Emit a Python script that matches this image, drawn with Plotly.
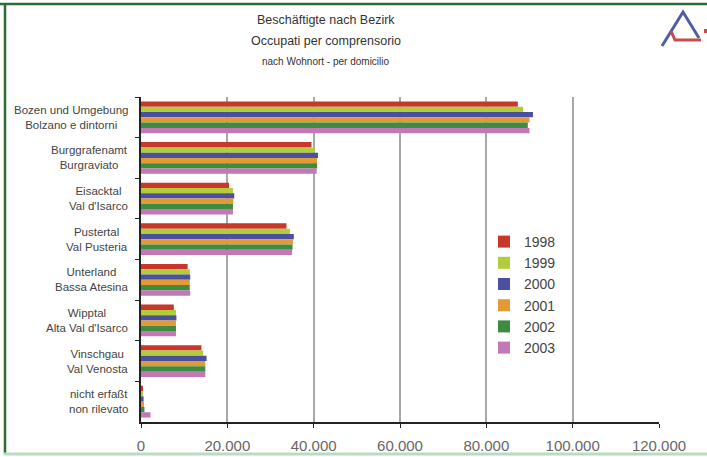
import plotly.graph_objects as go

categories = [
    "Bozen und Umgebung<br>Bolzano e dintorni",
    "Burggrafenamt<br>Burgraviato",
    "Eisacktal<br>Val d'Isarco",
    "Pustertal<br>Val Pusteria",
    "Unterland<br>Bassa Atesina",
    "Wipptal<br>Alta Val d'Isarco",
    "Vinschgau<br>Val Venosta",
    "nicht erfaßt<br>non rilevato",
]
years = ["1998", "1999", "2000", "2001", "2002", "2003"]
v1998 = [87300, 39500, 20400, 33700, 10800, 7600, 14000, 400]
v1999 = [88500, 40300, 21300, 34500, 11300, 8100, 14400, 500]
v2000 = [90800, 41000, 21600, 35400, 11400, 8200, 15200, 600]
v2001 = [90000, 40800, 21400, 35200, 11300, 8100, 14900, 700]
v2002 = [89600, 40800, 21300, 35100, 11300, 8100, 14900, 800]
v2003 = [90000, 40700, 21300, 35000, 11400, 8100, 14900, 2200]
series = [v1998, v1999, v2000, v2001, v2002, v2003]
colors = ["#c8372a", "#b3cc3c", "#4a4f9e", "#e39a36", "#3d8c3f", "#c477b6"]
xticks = [0, 20000, 40000, 60000, 80000, 100000, 120000]

W, H = 707, 457
L, R, T, B = 141, 48, 97, 35
PW, PH = W - L - R, H - T - B

def px(x):
    return (x - L) / PW

def py(y):
    return (H - B - y) / PH

fig = go.Figure()
for yr, vals, col in zip(years, series, colors):
    fig.add_trace(go.Bar(
        y=categories, x=vals, name=yr, orientation="h",
        marker=dict(color=col, line=dict(width=0)),
    ))

font = "Liberation Sans, Arial, sans-serif"
fig.update_layout(
    width=W, height=H,
    margin=dict(l=L, r=R, t=T, b=B, autoexpand=False),
    paper_bgcolor="white", plot_bgcolor="white",
    barmode="group", bargap=0.22, bargroupgap=0,
    separators=",.",
    font=dict(family=font, color="#444"),
    showlegend=True,
    legend=dict(
        x=px(484), y=py(226), xanchor="left", yanchor="top",
        font=dict(size=14, color="#444", family=font),
        bgcolor="rgba(0,0,0,0)", itemwidth=30, tracegroupgap=0,
    ),
    xaxis=dict(
        range=[0, 120000], tickvals=xticks, tickformat=",d",
        showgrid=True, gridcolor="#a8a8a8", gridwidth=2,
        showline=True, linecolor="#222", linewidth=1.5,
        ticks="outside", ticklen=4, tickcolor="#222",
        tickfont=dict(size=15, color="#666"),
        ticklabelstandoff=5,
        zeroline=False, automargin=False,
    ),
    yaxis=dict(
        autorange="reversed",
        showline=True, linecolor="#222", linewidth=1.5,
        ticks="outside", ticklen=4, tickcolor="#222", tickson="boundaries",
        showticklabels=False, automargin=False,
    ),
)

# category labels (centered lines, right-aligned block)
for cat in categories:
    fig.add_annotation(text=cat, x=px(130), y=cat, xref="paper", yref="y",
                       xanchor="right", yanchor="middle", align="center", showarrow=False,
                       font=dict(size=11.5, color="#444", family=font))

# titles
fig.add_annotation(text="Beschäftigte nach Bezirk", x=px(326), y=py(20), xref="paper", yref="paper",
                   yanchor="middle", showarrow=False, font=dict(size=12.5, color="#333", family=font))
fig.add_annotation(text="Occupati per comprensorio", x=px(326), y=py(41), xref="paper", yref="paper",
                   yanchor="middle", showarrow=False, font=dict(size=12.5, color="#333", family=font))
fig.add_annotation(text="nach Wohnort - per domicilio", x=px(326), y=py(62), xref="paper", yref="paper",
                   yanchor="middle", showarrow=False, font=dict(size=10, color="#333", family=font))

# frame
fig.add_shape(type="line", xref="paper", yref="paper", x0=px(0), x1=px(707), y0=py(4), y1=py(4),
              line=dict(color="#2e6b35", width=2.5))
fig.add_shape(type="line", xref="paper", yref="paper", x0=px(5), x1=px(5), y0=py(3), y1=py(454),
              line=dict(color="#2e6b35", width=2.5))
fig.add_shape(type="line", xref="paper", yref="paper", x0=px(4), x1=px(707), y0=py(454), y1=py(454),
              line=dict(color="#b9dcc0", width=3))

# logo
def path(points):
    return "M " + " L ".join(f"{px(a)},{py(b)}" for a, b in points)

fig.add_shape(type="path", xref="paper", yref="paper",
              path=path([(662, 46), (683, 12), (699, 38)]),
              line=dict(color="#4d5fa0", width=3))
fig.add_shape(type="path", xref="paper", yref="paper",
              path=path([(671, 31), (675, 40), (701, 40)]),
              line=dict(color="#c84a4a", width=3))
fig.add_shape(type="line", xref="paper", yref="paper", x0=px(704), x1=px(707), y0=py(31), y1=py(31),
              line=dict(color="#c84a4a", width=4))

fig.write_html("out.html")
